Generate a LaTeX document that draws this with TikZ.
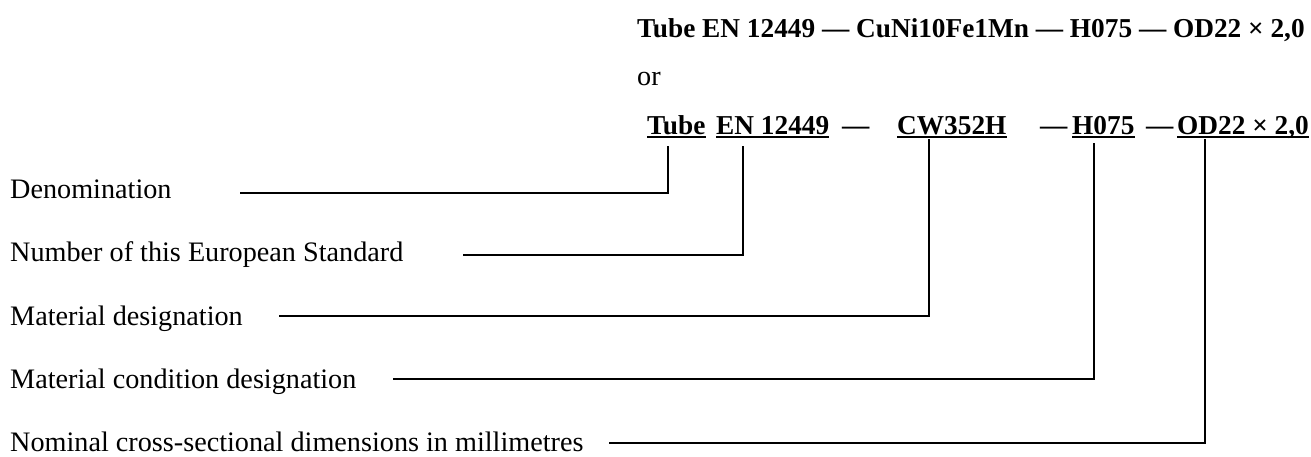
\documentclass[tikz,border=0pt]{standalone}
\usepackage{fontspec}
\setmainfont{Liberation Serif}
\begin{document}
\begin{tikzpicture}[x=1pt,y=-1pt,
  lbl/.style={anchor=base west,inner sep=0pt,font=\fontsize{28.2}{30}\selectfont},
  code/.style={anchor=base west,inner sep=0pt,font=\fontsize{27.3}{30}\selectfont\bfseries},
  uline/.style={line width=1.8pt},
  leader/.style={line width=2pt}]
\useasboundingbox (0,0) rectangle (1311,456);
% top designation
\node[code] (full) at (637,37) {Tube EN 12449 — CuNi10Fe1Mn — H075 — OD22 × 2,0};
\node[lbl] (or) at (637,85) {or};
% second designation
\node[code] (tube) at (647,134) {Tube};
\node[code] (en) at (716,134) {EN 12449};
\node[code] (da) at (842,134) {—};
\node[code] (cw) at (897,134) {CW352H};
\node[code] (db) at (1040,134) {—};
\node[code] (h) at (1072,134) {H075};
\node[code] (dc) at (1146,134) {—};
\node[code] (od) at (1177,134) {OD22 × 2,0};
\foreach \n in {tube,en,cw,h,od}{
  \draw[uline] ([yshift=-3pt]\n.base west) -- ([yshift=-3pt]\n.base east);
}
% labels
\node[lbl] (l1) at (10,198) {Denomination};
\node[lbl] (l2) at (10,261) {Number of this European Standard};
\node[lbl] (l3) at (10,325) {Material designation};
\node[lbl] (l4) at (10,388) {Material condition designation};
\node[lbl] (l5) at (10,451) {Nominal cross-sectional dimensions in millimetres};
% leader coordinates
\coordinate (s1) at (240,193); \coordinate (e1) at (668,146);
\coordinate (s2) at (463,255); \coordinate (e2) at (743,146);
\coordinate (s3) at (279,316); \coordinate (e3) at (929,139);
\coordinate (s4) at (393,379); \coordinate (e4) at (1094,143);
\coordinate (s5) at (609,443); \coordinate (e5) at (1205,139);
\foreach \i in {1,...,5}{
  \draw[leader] (s\i) -| (e\i);
}
\end{tikzpicture}
\end{document}
